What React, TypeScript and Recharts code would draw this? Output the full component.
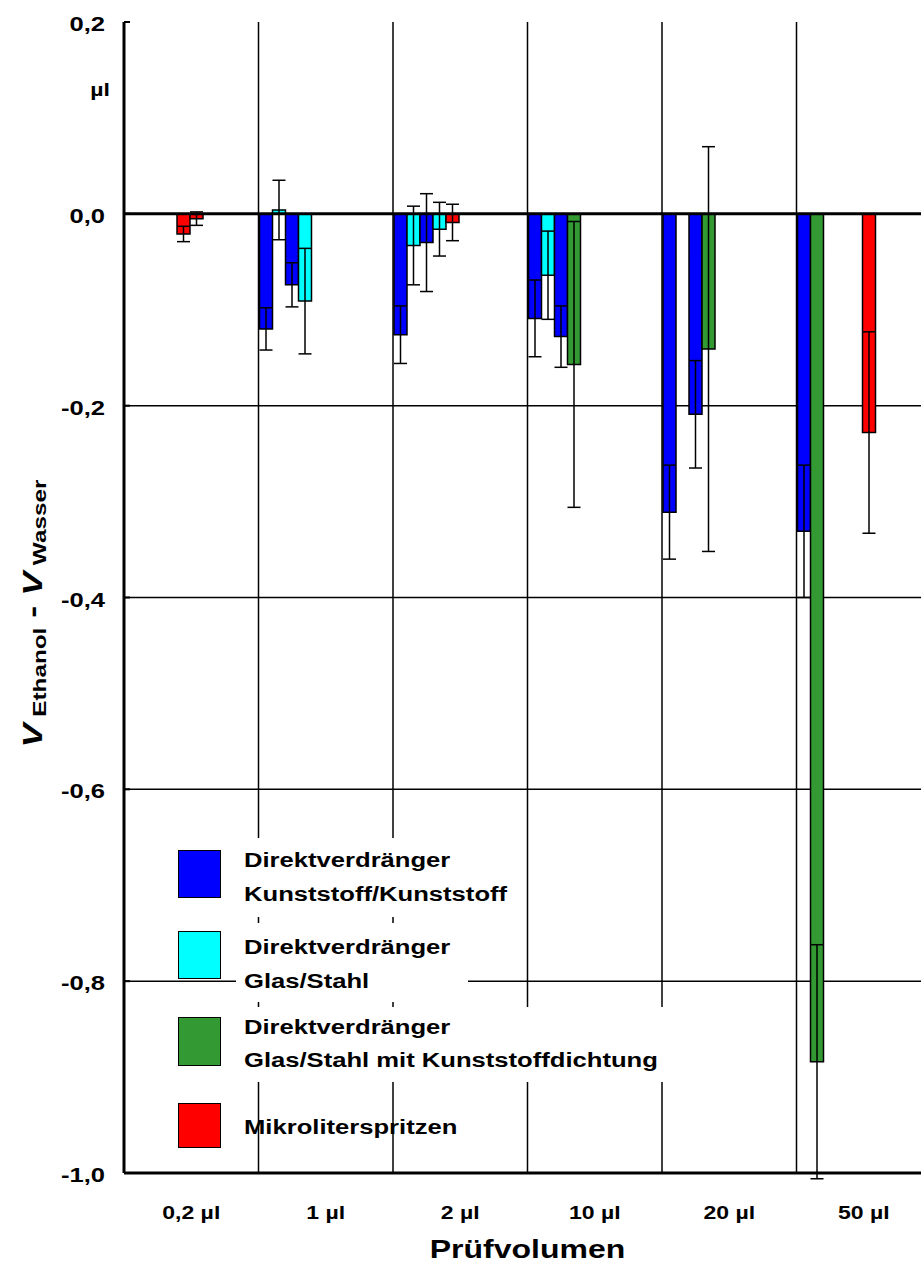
import React from "react";
import {
  BarChart,
  Bar,
  XAxis,
  YAxis,
  CartesianGrid,
  ReferenceLine,
  ErrorBar,
  Cell,
  Legend,
  Label,
} from "recharts";

const categories = ["0,2 µl", "1 µl", "2 µl", "10 µl", "20 µl", "50 µl"];

// pipette types: 0 DV Kunststoff/Kunststoff, 1 DV Glas/Stahl, 2 DV Glas/Stahl mit Dichtung, 3 Mikroliterspritzen
const typeColors = ["#0000ff", "#00ffff", "#339933", "#ff0000"];
const legendLabels = [
  ["Direktverdränger", "Kunststoff/Kunststoff"],
  ["Direktverdränger", "Glas/Stahl"],
  ["Direktverdränger", "Glas/Stahl mit Kunststoffdichtung"],
  ["Mikroliterspritzen"],
];

// one array per bar slot inside each volume group (10 slots per group)
const slot1Values = [null, -0.12, -0.126, -0.109, -0.311, -0.331];
const slot1Errors = [null, 0.022, 0.03, 0.04, 0.049, 0.069];
const slot1Types = [null, 0, 0, 0, 0, 0];

const slot2Values = [null, 0.004, -0.033, -0.064, null, -0.884];
const slot2Errors = [null, 0.031, 0.041, 0.046, null, 0.122];
const slot2Types = [null, 1, 1, 1, null, 2];

const slot3Values = [null, -0.074, -0.03, -0.128, -0.209, null];
const slot3Errors = [null, 0.023, 0.051, 0.032, 0.056, null];
const slot3Types = [null, 0, 0, 0, 0, null];

const slot4Values = [null, -0.091, -0.016, -0.157, -0.141, null];
const slot4Errors = [null, 0.055, 0.028, 0.149, 0.211, null];
const slot4Types = [null, 1, 1, 2, 2, null];

const slot5Values = [-0.021, null, -0.009, null, null, null];
const slot5Errors = [0.008, null, 0.019, null, null, null];
const slot5Types = [3, null, 3, null, null, null];

const slot6Values = [-0.005, null, null, null, null, -0.228];
const slot6Errors = [0.007, null, null, null, null, 0.105];
const slot6Types = [3, null, null, null, null, 3];

const emptySlot = [null, null, null, null, null, null];

const yTicks = [-1, -0.8, -0.6, -0.4, -0.2, 0, 0.2];
const gridValues = [-0.8, -0.6, -0.4, -0.2];

const slots = [
  { values: slot1Values, errors: slot1Errors, types: slot1Types },
  { values: slot2Values, errors: slot2Errors, types: slot2Types },
  { values: slot3Values, errors: slot3Errors, types: slot3Types },
  { values: slot4Values, errors: slot4Errors, types: slot4Types },
  { values: slot5Values, errors: slot5Errors, types: slot5Types },
  { values: slot6Values, errors: slot6Errors, types: slot6Types },
  { values: emptySlot, errors: emptySlot, types: emptySlot },
  { values: emptySlot, errors: emptySlot, types: emptySlot },
  { values: emptySlot, errors: emptySlot, types: emptySlot },
  { values: emptySlot, errors: emptySlot, types: emptySlot },
];

const data = categories.map((name, c) => {
  const row: any = { name };
  slots.forEach((s, i) => {
    row[`v${i}`] = s.values[c];
    row[`e${i}`] = s.errors[c];
  });
  return row;
});

const font = "'Liberation Sans', Arial, sans-serif";
const stretch = 1.28;

function YTick({ x, y, payload }: any) {
  const txt = Number(payload.value).toFixed(1).replace(".", ",");
  return (
    <g>
      <line x1={x + 19} x2={x + 25} y1={y} y2={y} stroke="#000" strokeWidth={2} />
      <text
        transform={`translate(${x},${y + 9}) scale(${stretch},1)`}
        textAnchor="end"
        fontFamily={font}
        fontWeight="bold"
        fontSize={20}
        fill="#000"
      >
        {txt}
      </text>
    </g>
  );
}

function XTick({ x, y, payload }: any) {
  return (
    <text
      transform={`translate(${x},${y + 46}) scale(${stretch},1)`}
      textAnchor="middle"
      fontFamily={font}
      fontWeight="bold"
      fontSize={18}
      fill="#000"
    >
      {payload.value}
    </text>
  );
}

function UnitLabel({ viewBox }: any) {
  return (
    <text
      transform={`translate(${viewBox.x + viewBox.width - 14},${viewBox.y + 74}) scale(${stretch},1)`}
      textAnchor="end"
      fontFamily={font}
      fontWeight="bold"
      fontSize={18}
      fill="#000"
    >
      µl
    </text>
  );
}

function YTitle({ viewBox }: any) {
  const cx = viewBox.x + 42;
  const cy = viewBox.y + viewBox.height / 2 + 16;
  return (
    <text
      transform={`translate(${cx},${cy}) rotate(-90) scale(${stretch},1)`}
      textAnchor="middle"
      fontFamily={font}
      fontWeight="bold"
      fill="#000"
    >
      <tspan fontSize={28} fontStyle="italic">V</tspan>
      <tspan fontSize={19} dy={4}> Ethanol</tspan>
      <tspan fontSize={28} dy={-4}> - </tspan>
      <tspan fontSize={28} fontStyle="italic">V</tspan>
      <tspan fontSize={19} dy={4}> Wasser</tspan>
    </text>
  );
}

function XTitle({ viewBox }: any) {
  return (
    <text
      transform={`translate(${viewBox.x + viewBox.width / 2},${viewBox.y + 85}) scale(${stretch},1)`}
      textAnchor="middle"
      fontFamily={font}
      fontWeight="bold"
      fontSize={25}
      fill="#000"
    >
      Prüfvolumen
    </text>
  );
}

const swatchBoxes = [
  { top: 850, height: 48 },
  { top: 931, height: 48 },
  { top: 1017, height: 49 },
  { top: 1103, height: 45 },
];
const textCenters = [
  [860, 894],
  [947, 981],
  [1027, 1060],
  [1127],
];
const whiteBoxes = [
  { left: 236, top: 838, width: 264, height: 79 },
  { left: 236, top: 923, width: 232, height: 79 },
  { left: 236, top: 1007, width: 432, height: 75 },
];

function LegendContent() {
  return (
    <div style={{ position: "relative", fontFamily: font, fontWeight: "bold" }}>
      {whiteBoxes.map((b, i) => (
        <div
          key={`w${i}`}
          style={{ position: "absolute", left: b.left, top: b.top, width: b.width, height: b.height, background: "#fff" }}
        />
      ))}
      {legendLabels.map((lines, i) => (
        <React.Fragment key={i}>
          <div
            style={{
              position: "absolute",
              left: 178,
              top: swatchBoxes[i].top,
              width: 43,
              height: swatchBoxes[i].height,
              boxSizing: "border-box",
              background: typeColors[i],
              border: "1.5px solid #000",
            }}
          />
          {lines.map((line, j) => (
            <div
              key={j}
              style={{
                position: "absolute",
                left: 244,
                top: textCenters[i][j] - 12,
                height: 24,
                lineHeight: "24px",
                fontSize: 20,
                whiteSpace: "nowrap",
                color: "#000",
                transform: `scaleX(${stretch})`,
                transformOrigin: "0 50%",
              }}
            >
              {line}
            </div>
          ))}
        </React.Fragment>
      ))}
    </div>
  );
}

export default function App() {
  return (
    <div style={{ position: "absolute", left: 0, top: 0, width: 921, height: 1278, overflow: "hidden", background: "#fff" }}>
      <BarChart
        width={940}
        height={1278}
        data={data}
        margin={{ top: 22, right: 9, left: 0, bottom: 0 }}
        barCategoryGap={1}
        barGap={0}
      >
        <CartesianGrid
          stroke="#000"
          strokeWidth={1.5}
          horizontalValues={gridValues}
          verticalCoordinatesGenerator={({ offset }: any) =>
            categories.slice(1).map((_, i) => offset.left + ((i + 1) * offset.width) / categories.length)
          }
        />
        <XAxis
          dataKey="name"
          axisLine={{ stroke: "#000", strokeWidth: 3 }}
          tickLine={false}
          tickSize={0}
          tickMargin={0}
          height={105}
          tick={<XTick />}
          interval={0}
        >
          <Label content={<XTitle />} />
        </XAxis>
        <YAxis
          domain={[-1, 0.2]}
          ticks={yTicks}
          allowDataOverflow
          width={124}
          axisLine={{ stroke: "#000", strokeWidth: 3 }}
          tickLine={false}
          tickSize={0}
          tickMargin={19}
          tick={<YTick />}
        >
          <Label content={<UnitLabel />} />
          <Label content={<YTitle />} />
        </YAxis>
        {slots.map((s, i) => (
          <Bar key={i} dataKey={`v${i}`} stroke="#000" strokeWidth={1.5} isAnimationActive={false}>
            {categories.map((_, c) => (
              <Cell key={c} fill={s.types[c] == null ? "none" : typeColors[s.types[c] as number]} />
            ))}
            <ErrorBar dataKey={`e${i}`} width={6.5} stroke="#000" strokeWidth={1.5} direction="y" />
          </Bar>
        ))}
        <ReferenceLine y={0} stroke="#000" strokeWidth={3} />
        <Legend
          layout="vertical"
          align="center"
          verticalAlign="middle"
          wrapperStyle={{ left: 0, top: 0, width: 0, height: 0 }}
          content={<LegendContent />}
        />
      </BarChart>
    </div>
  );
}
